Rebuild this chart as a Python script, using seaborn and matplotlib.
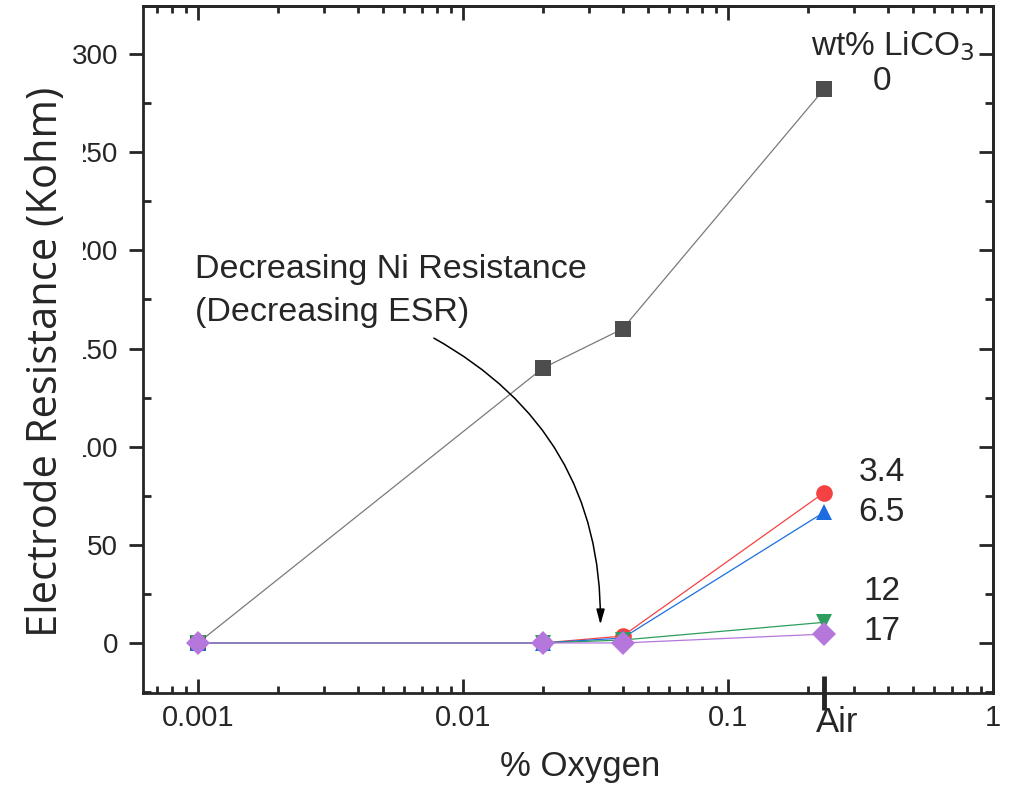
import pandas as pd
import matplotlib
matplotlib.use("Agg")
import matplotlib.pyplot as plt
from matplotlib.transforms import ScaledTranslation
import seaborn as sns

# data
OXYGEN = [0.001, 0.02, 0.04, 0.23]  # last point = "Air"
WT_LABELS = ["0", "3.4", "6.5", "12", "17"]
RES_0 = [0, 140, 160, 282]
RES_34 = [0, 0, 3.5, 76.5]
RES_65 = [0, 0, 2.5, 66.5]
RES_12 = [0, 0, 1.5, 10.5]
RES_17 = [0, 0, 0, 4.5]

COLORS = ["#4d4d4d", "#f44242", "#1c6ee0", "#2e9e5e", "#b677dc"]
MARKERS = ["s", "o", "^", "v", "D"]

XTICKS = [0.001, 0.01, 0.1, 1]
XTICKLABELS = ["0.001", "0.01", "0.1", "1"]
YTICKS = [0, 50, 100, 150, 200, 250, 300]


def main():
    sns.set_style("ticks")
    plt.rcParams["font.family"] = ["Liberation Sans", "DejaVu Sans"]

    rows = []
    for lab, vals in zip(WT_LABELS, [RES_0, RES_34, RES_65, RES_12, RES_17]):
        for x, y in zip(OXYGEN, vals):
            rows.append({"oxygen": x, "res": y, "wt": lab})
    df = pd.DataFrame(rows)

    fig = plt.figure(figsize=(10.12, 7.93), dpi=100)
    ax = fig.add_axes([0.1413, 0.1261, 0.9812 - 0.1413, 0.9924 - 0.1261])

    sns.lineplot(
        data=df, x="oxygen", y="res", hue="wt", style="wt",
        hue_order=WT_LABELS, style_order=WT_LABELS,
        palette=dict(zip(WT_LABELS, COLORS)),
        markers=dict(zip(WT_LABELS, MARKERS)),
        dashes=False, markersize=12, markeredgewidth=0,
        linewidth=0.9, legend=False, sort=False, ax=ax,
    )
    # grey line for the 0 wt% series is lighter than its markers
    ax.lines[0].set_color("#7a7a7a")
    ax.lines[0].set_markerfacecolor(COLORS[0])

    ax.set_xscale("log")
    ax.set_xlim(0.00062, 1)
    ax.set_ylim(-25.5, 324.5)

    ax.set_xticks(XTICKS)
    ax.set_xticklabels(XTICKLABELS)
    ax.set_yticks(YTICKS)
    ax.set_yticks(range(-25, 325, 25), minor=True)
    ax.tick_params(axis="x", which="both", direction="in", labelsize=21,
                   pad=8, width=2)
    ax.tick_params(axis="x", which="major", length=10)
    ax.tick_params(axis="x", which="minor", length=5)
    ax.tick_params(axis="y", which="major", direction="out", length=10,
                   width=2, labelsize=20, pad=8)
    ax.tick_params(axis="y", which="minor", direction="in", length=6, width=2)

    # top / right: ticks only, pointing in
    top = ax.secondary_xaxis("top")
    top.set_xticks(XTICKS)
    top.tick_params(which="both", direction="in", labeltop=False, width=2)
    top.tick_params(which="major", length=10)
    top.tick_params(which="minor", length=5)
    right = ax.secondary_yaxis("right")
    right.set_yticks(YTICKS)
    right.set_yticks(range(-25, 325, 25), minor=True)
    right.tick_params(which="both", direction="in", labelright=False, width=2)
    right.tick_params(which="major", length=10)
    right.tick_params(which="minor", length=6)

    # the "Air" tick
    air = ax.secondary_xaxis("bottom")
    air.set_xticks([OXYGEN[-1]], ["Air"])
    air.xaxis.set_minor_locator(matplotlib.ticker.NullLocator())
    air.tick_params(direction="inout", length=24, width=3.5, labelsize=25, pad=-3)
    air.spines["bottom"].set_visible(False)
    for lbl in air.get_xticklabels():
        lbl.set_transform(lbl.get_transform()
                          + ScaledTranslation(0.13, 0, fig.dpi_scale_trans))

    for sp in ax.spines.values():
        sp.set_linewidth(2)
        sp.set_visible(True)
    for s in (top, right):
        for sp in s.spines.values():
            sp.set_linewidth(2)

    ax.set_xlabel("% Oxygen", fontsize=25)
    ax.xaxis.set_label_coords(0.514, -0.083)
    ax.set_ylabel("Electrode Resistance (Kohm)", fontsize=30,
                  family=["Open Sans", "DejaVu Sans"],
                  bbox=dict(facecolor="white", edgecolor="none", pad=11))
    ax.yaxis.set_label_coords(-0.089, 0.482)

    # series labels on the right
    ax.text(0.855, 299.5, "wt% LiCO$_3$", fontsize=24, ha="right", va="baseline")
    lab_y = [286, 87, 66.5, 26, 5.6]
    for lab, y in zip(WT_LABELS, lab_y):
        ax.text(0.381, y, lab, fontsize=24, ha="center", va="center")

    # annotation with curved arrow
    ax.text(0.00097, 198, "Decreasing Ni Resistance\n(Decreasing ESR)",
            fontsize=24.5, ha="left", va="top", linespacing=1.5)
    ax.annotate("", xy=(0.033, 8), xytext=(0.0076, 156),
                arrowprops=dict(arrowstyle="-|>,head_length=0.9,head_width=0.25",
                                color="black", lw=1.1,
                                connectionstyle="arc3,rad=-0.3"))

    fig.savefig("out.png", dpi=100)


if __name__ == "__main__":
    main()
